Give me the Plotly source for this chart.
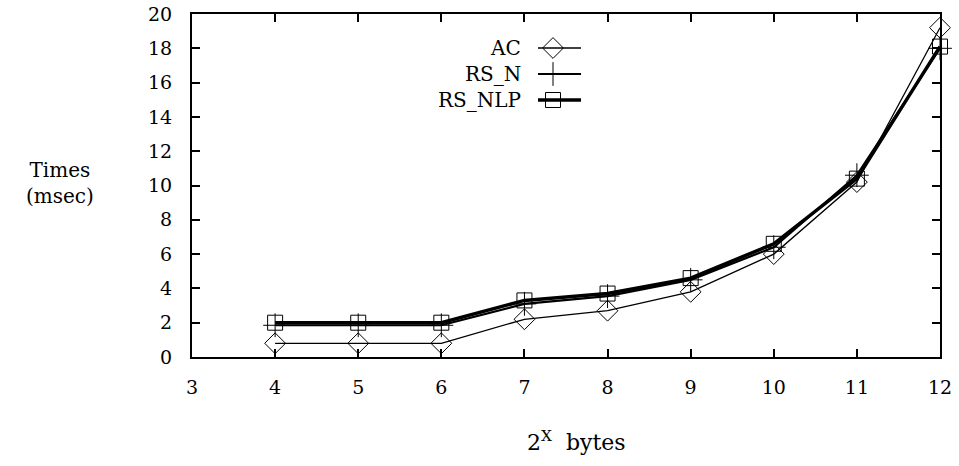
import plotly.graph_objects as go

x_vals = [4, 5, 6, 7, 8, 9, 10, 11, 12]
ac = [0.8, 0.8, 0.8, 2.2, 2.7, 3.8, 6.0, 10.2, 19.2]
rs_n = [1.85, 1.85, 1.85, 3.1, 3.55, 4.5, 6.4, 10.6, 18.0]
rs_nlp = [2.0, 2.0, 2.0, 3.3, 3.7, 4.6, 6.6, 10.4, 18.1]
names = ["AC", "RS_N", "RS_NLP"]
x_ticks = list(range(3, 13))
y_ticks = list(range(0, 21, 2))

FONT = "DejaVu Serif"
styles = [
    dict(width=1.3, symbol="diamond-open", size=16),
    dict(width=2.2, symbol="cross-thin-open", size=17),
    dict(width=3.5, symbol="square-open", size=15),
]

fig = go.Figure()
for name, ys, st in zip(names, [ac, rs_n, rs_nlp], styles):
    fig.add_trace(go.Scatter(
        x=x_vals, y=ys, mode="lines+markers", name=name,
        line=dict(color="black", width=st["width"]),
        marker=dict(symbol=st["symbol"], size=st["size"], color="black",
                    line=dict(color="black", width=1)),
        showlegend=False, cliponaxis=False,
    ))

# custom gnuplot-style legend (text right, sample on the right)
L, R, T, B = 192, 940, 14, 357
W, H = R - L, B - T
def px(x):
    return (x - L) / W
def py(y):
    return (B - y) / H

leg_rows = [48, 74, 100]
for name, st, ry in zip(names, styles, leg_rows):
    fig.add_annotation(x=px(523), y=py(ry), xref="paper", yref="paper",
                       text=name, showarrow=False, xanchor="right", yanchor="middle",
                       font=dict(family=FONT, size=20, color="black"))
    fig.add_shape(type="line", xref="paper", yref="paper",
                  x0=px(538), x1=px(581), y0=py(ry), y1=py(ry),
                  line=dict(color="black", width=st["width"]))
    fig.add_trace(go.Scatter(
        x=[px(553)], y=[py(ry)], xaxis="x2", yaxis="y2", mode="markers",
        marker=dict(symbol=st["symbol"], size=st["size"], color="black",
                    line=dict(color="black", width=1)),
        showlegend=False, hoverinfo="skip", cliponaxis=False,
    ))

axis_common = dict(
    showgrid=False, zeroline=False, showline=True, linecolor="black", linewidth=2,
    mirror="ticks", ticks="inside", ticklen=8, tickwidth=2, tickcolor="black",
    tickfont=dict(family=FONT, size=19, color="black"), automargin=False,
)
fig.update_layout(
    template="none",
    width=959, height=466,
    margin=dict(l=L, r=959 - R, t=T, b=466 - B),
    plot_bgcolor="white", paper_bgcolor="white",
    xaxis=dict(range=[3, 12], tickvals=x_ticks, ticklabelstandoff=12, **axis_common),
    yaxis=dict(range=[0, 20], tickvals=y_ticks, ticklabelstandoff=14, **axis_common),
    xaxis2=dict(overlaying="x", range=[0, 1], visible=False),
    yaxis2=dict(overlaying="y", range=[0, 1], visible=False),
    font=dict(family=FONT, color="black"),
)
fig.add_annotation(x=px(60), y=py(183), xref="paper", yref="paper",
                   text="Times<br>(msec)", showarrow=False, align="center",
                   xanchor="center", yanchor="middle",
                   font=dict(family=FONT, size=20, color="black"))
fig.add_annotation(x=px(576), y=py(441), xref="paper", yref="paper",
                   text="2<sup>X</sup>  bytes", showarrow=False,
                   xanchor="center", yanchor="middle",
                   font=dict(family=FONT, size=22, color="black"))

fig.write_html("out.html")
